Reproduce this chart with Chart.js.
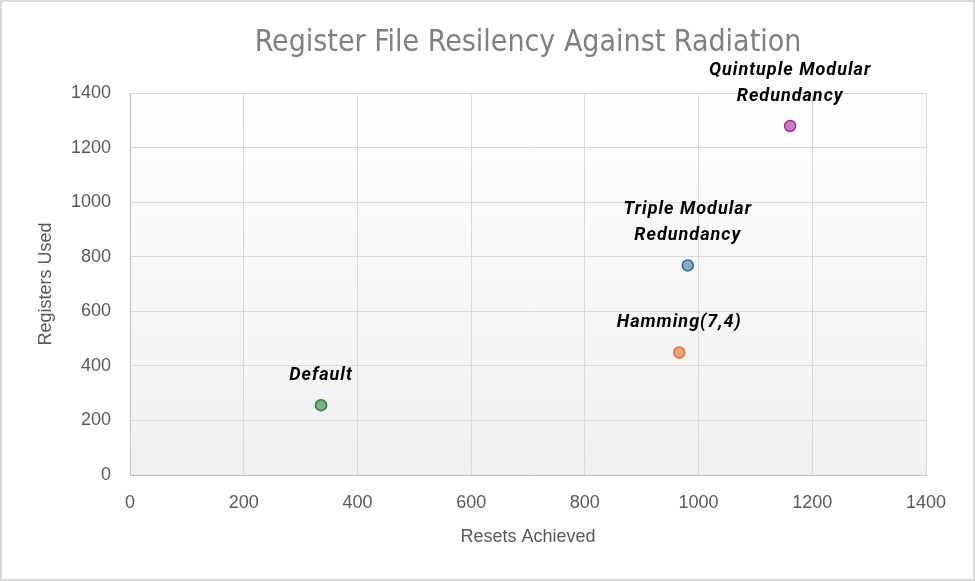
<!DOCTYPE html>
<html>
<head>
<meta charset="utf-8">
<script src="https://cdn.jsdelivr.net/npm/chart.js@4.4.1/dist/chart.umd.min.js"></script>
<style>
  html, body { margin: 0; padding: 0; background: #fff; }
  #wrap { width: 975px; height: 581px; }
</style>
</head>
<body>
<div id="wrap"><canvas id="scatterChart"></canvas></div>
<script>
// data
var pointNames = ['Default', 'Hamming(7,4)', 'Triple Modular Redundancy', 'Quintuple Modular Redundancy'];
var labelLines = [['Default'], ['Hamming(7,4)'], ['Triple Modular', 'Redundancy'], ['Quintuple Modular', 'Redundancy']];
var resetsAchieved = [336, 966, 981, 1161];
var registersUsed = [256, 449, 768, 1279];
var axisTicks = [0, 200, 400, 600, 800, 1000, 1200, 1400];

var fillColors = ['rgba(25,107,36,0.5)', 'rgba(233,113,50,0.6)', 'rgba(21,96,130,0.5)', 'rgba(160,43,147,0.6)'];
var lineColors = ['#2e7d37', '#e97132', '#1f6a8e', '#a02b93'];

var points = resetsAchieved.map(function (x, i) {
    return { x: x, y: registersUsed[i] };
});

var narrow = '"Liberation Sans Narrow", "DejaVu Sans Condensed", "Liberation Sans", sans-serif';
var regular = '"Liberation Sans", Arial, sans-serif';

// plot area background + outer border
var frame = {
    id: 'frame',
    beforeDraw: function (chart) {
        var ctx = chart.ctx, a = chart.chartArea;
        ctx.save();
        var g = ctx.createLinearGradient(0, a.top, 0, a.bottom);
        g.addColorStop(0, '#ffffff');
        g.addColorStop(1, '#f0f0f0');
        ctx.fillStyle = g;
        ctx.fillRect(a.left, a.top, a.right - a.left, a.bottom - a.top);
        ctx.restore();
    },
    afterDraw: function (chart) {
        var ctx = chart.ctx;
        ctx.save();
        ctx.strokeStyle = '#d9d9d9';
        ctx.lineWidth = 2;
        ctx.strokeRect(1, 1, chart.width - 2, chart.height - 2);
        ctx.restore();
    }
};

// labels above each point
var pointLabels = {
    id: 'pointLabels',
    afterDatasetsDraw: function (chart) {
        var ctx = chart.ctx;
        var meta = chart.getDatasetMeta(0);
        ctx.save();
        ctx.font = 'italic bold 18px Roboto, "Open Sans", sans-serif';
        ctx.letterSpacing = '1px';
        ctx.fillStyle = '#000';
        ctx.textAlign = 'center';
        ctx.textBaseline = 'middle';
        meta.data.forEach(function (el, i) {
            var lines = labelLines[i];
            for (var k = 0; k < lines.length; k++) {
                var up = 30 + (lines.length - 1 - k) * 26;
                ctx.fillText(lines[k], el.x, el.y - up);
            }
        });
        ctx.restore();
    }
};

var plainTick = function (v) { return String(v); };

var myScatter = new Chart(document.getElementById('scatterChart'), {
    type: 'scatter',
    data: {
        labels: pointNames,
        datasets: [{
            label: 'Registers Used',
            data: points,
            backgroundColor: fillColors,
            borderColor: lineColors,
            borderWidth: 1.5,
            pointRadius: 5.5,
            pointHoverRadius: 5.5
        }]
    },
    options: {
        responsive: true,
        maintainAspectRatio: false,
        animation: false,
        layout: { padding: { left: 0, right: 49, top: 0, bottom: 0 } },
        plugins: {
            legend: { display: false },
            tooltip: { enabled: false },
            title: {
                display: true,
                fullSize: false,
                text: 'Register File Resilency Against Radiation',
                color: '#808080',
                font: { family: narrow, size: 30, weight: 'normal' },
                padding: { top: 25, bottom: 32 }
            }
        },
        scales: {
            x: {
                type: 'linear',
                min: 0,
                max: 1400,
                afterBuildTicks: function (s) { s.ticks = axisTicks.map(function (v) { return { value: v }; }); },
                afterFit: function (s) { s.height = 106; },
                grid: { color: '#d9d9d9', drawTicks: false },
                border: { color: '#bfbfbf' },
                ticks: { color: '#595959', padding: 17, font: { family: regular, size: 18 }, callback: plainTick },
                title: {
                    display: true,
                    text: 'Resets Achieved',
                    color: '#595959',
                    font: { family: regular, size: 18 },
                    padding: { top: 0, bottom: 33 }
                }
            },
            y: {
                type: 'linear',
                min: 0,
                max: 1400,
                afterBuildTicks: function (s) { s.ticks = axisTicks.map(function (v) { return { value: v }; }); },
                afterFit: function (s) { s.width = 130; },
                grid: { color: '#d9d9d9', drawTicks: false },
                border: { color: '#bfbfbf' },
                ticks: { color: '#595959', padding: 19, font: { family: regular, size: 18 }, callback: plainTick },
                title: {
                    display: true,
                    text: 'Registers Used',
                    color: '#595959',
                    font: { family: regular, size: 18 },
                    padding: { top: 35, bottom: 0 }
                }
            }
        }
    },
    plugins: [frame, pointLabels]
});
</script>
</body>
</html>
